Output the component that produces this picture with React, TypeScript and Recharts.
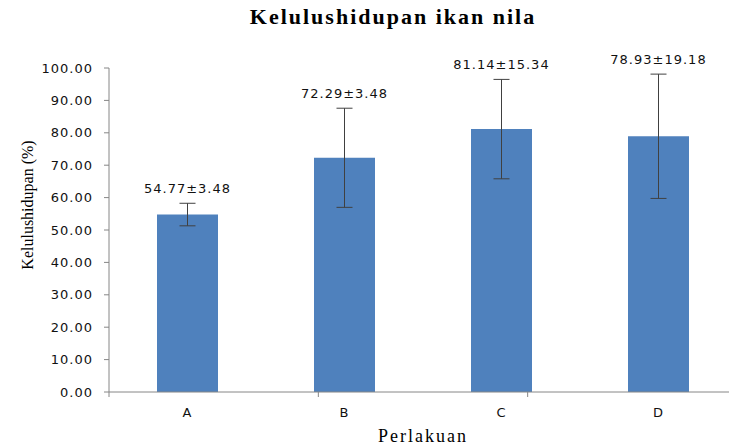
import { BarChart, Bar, XAxis, YAxis, ErrorBar, LabelList } from 'recharts'

// Perlakuan (treatments) and survival values
const categories = ['A', 'B', 'C', 'D']
const survival = [54.77, 72.29, 81.14, 78.93]
// drawn error bar half-lengths (B's bar is drawn wider than its label says)
const errors = [3.48, 15.3, 15.34, 19.18]
const valueLabels = ['54.77±3.48', '72.29±3.48', '81.14±15.34', '78.93±19.18']
const yTicks = [0, 10, 20, 30, 40, 50, 60, 70, 80, 90, 100]
const sepTicks = [0, 1, 2, 3, 4]

const data = categories.map((cat, i) => ({
  cat,
  value: survival[i],
  err: errors[i],
  label: valueLabels[i],
}))

const numFont = { fontFamily: 'DejaVu Sans', fontSize: 13, fill: '#111', letterSpacing: 1 }

// label sits above the top of the error bar
function TopLabel(props: any) {
  const { x, y, width, height, index } = props
  const errPx = (errors[index] * height) / survival[index]
  return (
    <text
      x={x + width / 2}
      y={y - errPx - 10}
      textAnchor="middle"
      {...numFont}
    >
      {valueLabels[index]}
    </text>
  )
}

// separator axis only needs its tick lines, no text
const NoText = () => <g />

export default function App() {
  return (
    <div
      style={{
        position: 'absolute',
        left: 0,
        top: 0,
        width: 729,
        height: 446,
        overflow: 'hidden',
        background: '#fff',
      }}
    >
      <div
        style={{
          position: 'absolute',
          left: 0,
          top: 6,
          width: 786,
          textAlign: 'center',
          fontFamily: 'Liberation Serif',
          fontWeight: 'bold',
          fontSize: 22,
          lineHeight: '22px',
          letterSpacing: 2,
          color: '#000',
        }}
      >
        Kelulushidupan ikan nila
      </div>
      <div
        style={{
          position: 'absolute',
          left: 28,
          top: 205,
          transform: 'translate(-50%, -50%) rotate(-90deg)',
          whiteSpace: 'nowrap',
          fontFamily: 'Liberation Serif',
          fontSize: 16,
          color: '#000',
        }}
      >
        Kelulushidupan (%)
      </div>
      <BarChart
        width={786}
        height={446}
        data={data}
        margin={{ top: 68, right: 49, bottom: 0, left: 0 }}
      >
        <XAxis
          xAxisId="z"
          dataKey="cat"
          height={53}
          axisLine={false}
          tickLine={false}
          tickSize={0}
          tickMargin={15}
          tick={{ ...numFont }}
          label={{
            value: 'Perlakuan',
            position: 'insideBottom',
            offset: 4,
            fontFamily: 'Liberation Serif',
            fontSize: 18,
            letterSpacing: 2,
            fill: '#000',
          }}
        />
        <XAxis
          xAxisId="a"
          type="number"
          domain={[0, 4]}
          ticks={sepTicks}
          interval={0}
          height={1}
          tick={NoText}
          tickSize={5}
          stroke="#868686"
          allowDataOverflow
        />
        <YAxis
          width={109}
          domain={[0, 100]}
          ticks={yTicks}
          tickFormatter={(v: number) => v.toFixed(2)}
          tickSize={5}
          tickMargin={11}
          stroke="#868686"
          tick={{ ...numFont }}
        />
        <Bar xAxisId="z" dataKey="value" fill="#4F81BD" barSize={61} isAnimationActive={false}>
          <ErrorBar
            dataKey="err"
            direction="y"
            width={8}
            stroke="#404040"
            strokeWidth={1}
            isAnimationActive={false}
          />
          <LabelList dataKey="label" content={<TopLabel />} />
        </Bar>
      </BarChart>
    </div>
  )
}
